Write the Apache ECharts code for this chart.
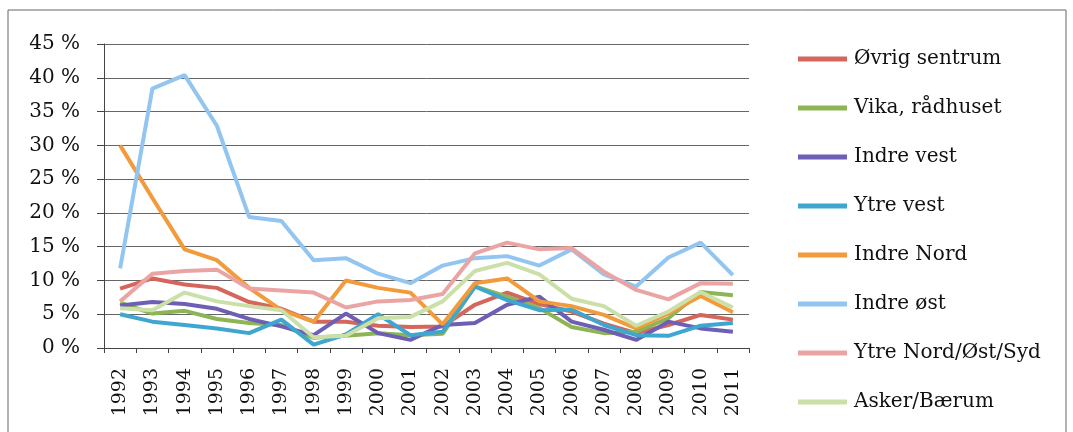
<!DOCTYPE html>
<html>
<head>
<meta charset="utf-8">
<script src="https://cdn.jsdelivr.net/npm/echarts@6/dist/echarts.min.js"></script>
<style>
  html, body { margin: 0; padding: 0; background: #fff; }
  #chart { width: 1073px; height: 432px; }
</style>
</head>
<body>
<div id="chart"></div>
<script>
// Years on the category axis
const years = ['1992','1993','1994','1995','1996','1997','1998','1999','2000','2001',
               '2002','2003','2004','2005','2006','2007','2008','2009','2010','2011'];

// Share per area and year, in percent
const ovrigSentrum = [8.8, 10.3, 9.4, 8.9, 6.8, 5.8, 3.9, 3.9, 3.3, 3.1, 3.2, 6.4, 8.2, 6.5, 5.4, 3.6, 2.2, 3.4, 4.9, 4.2];
const vikaRadhuset = [6.7, 5.1, 5.5, 4.3, 3.7, 3.4, 1.5, 1.8, 2.2, 1.9, 2.1, 9.1, 7.6, 5.9, 3.1, 2.2, 2.4, 4.4, 8.3, 7.8];
const indreVest    = [6.3, 6.8, 6.5, 5.8, 4.3, 3.2, 1.9, 5.1, 2.2, 1.2, 3.4, 3.7, 6.4, 7.6, 3.9, 2.7, 1.2, 3.9, 2.9, 2.4];
const ytreVest     = [5.0, 3.9, 3.4, 2.9, 2.2, 4.2, 0.5, 2.0, 5.0, 1.9, 2.4, 9.1, 7.1, 5.6, 5.7, 3.4, 1.9, 1.8, 3.3, 3.7];
const indreNord    = [30.0, 22.2, 14.6, 13.0, 8.9, 5.6, 3.9, 10.0, 8.9, 8.2, 3.5, 9.6, 10.3, 6.9, 6.2, 4.9, 2.9, 5.1, 7.7, 5.3];
const indreOst     = [11.8, 38.4, 40.4, 32.9, 19.4, 18.8, 13.0, 13.3, 11.0, 9.6, 12.2, 13.3, 13.6, 12.2, 14.6, 10.9, 9.1, 13.4, 15.6, 10.8];
const ytreNordOst  = [6.9, 11.0, 11.4, 11.6, 8.8, 8.5, 8.2, 6.0, 6.9, 7.1, 8.0, 14.0, 15.6, 14.6, 14.8, 11.3, 8.6, 7.2, 9.6, 9.5];
const askerBarum   = [5.9, 5.6, 8.2, 6.9, 6.2, 5.6, 1.6, 1.8, 4.4, 4.6, 6.9, 11.4, 12.6, 10.9, 7.3, 6.2, 3.3, 5.4, 8.3, 6.0];

// Y-axis ticks (percent)
const yMin = 0, yMax = 45, yStep = 5;

const seriesDefs = [
  { name: 'Øvrig sentrum',     data: ovrigSentrum, color: '#d4665c' },
  { name: 'Vika, rådhuset',    data: vikaRadhuset, color: '#8db555' },
  { name: 'Indre vest',        data: indreVest,    color: '#6e5fb5' },
  { name: 'Ytre vest',         data: ytreVest,     color: '#3ea6cf' },
  { name: 'Indre Nord',        data: indreNord,    color: '#f19b3c' },
  { name: 'Indre øst',         data: indreOst,     color: '#92c5ef' },
  { name: 'Ytre Nord/Øst/Syd', data: ytreNordOst,  color: '#eba4a4' },
  { name: 'Asker/Bærum',       data: askerBarum,   color: '#cbe0a8' }
];

const font = 'DejaVu Serif';
const chart = echarts.init(document.getElementById('chart'), null, { renderer: 'canvas' });

chart.setOption({
  backgroundColor: '#ffffff',
  animation: false,
  color: seriesDefs.map(s => s.color),
  grid: { left: 104, right: 324, top: 44, bottom: 84, containLabel: false },
  legend: {
    orient: 'vertical',
    left: 793,
    top: 44,
    icon: 'rect',
    itemWidth: 49,
    itemHeight: 5,
    itemGap: 29,
    textStyle: { fontFamily: font, fontSize: 20, color: '#111', padding: [0, 0, 0, 2] },
    data: seriesDefs.map(s => s.name)
  },
  xAxis: {
    type: 'category',
    data: years,
    boundaryGap: true,
    axisLine: { lineStyle: { color: '#444', width: 1 } },
    axisTick: { show: true, length: 5, lineStyle: { color: '#444' } },
    axisLabel: { rotate: 90, margin: 20, fontFamily: font, fontSize: 19, color: '#111' }
  },
  yAxis: {
    type: 'value',
    min: yMin,
    max: yMax,
    interval: yStep,
    axisLine: { show: true, lineStyle: { color: '#444', width: 1 } },
    axisTick: { show: true, length: 7, lineStyle: { color: '#444' } },
    axisLabel: { margin: 24, fontFamily: font, fontSize: 20, color: '#111', formatter: '{value} %' },
    splitLine: { show: true, lineStyle: { color: '#666', width: 1 } }
  },
  series: seriesDefs.map(s => ({
    name: s.name,
    type: 'line',
    data: s.data,
    symbol: 'none',
    lineStyle: { width: 4, color: s.color },
    itemStyle: { color: s.color }
  })),
  graphic: [
    {
      type: 'polyline',
      shape: { points: [[8, 432], [8, 10], [1066, 10], [1066, 432]] },
      style: { stroke: '#666', lineWidth: 1, fill: null },
      silent: true
    }
  ]
});
</script>
</body>
</html>
